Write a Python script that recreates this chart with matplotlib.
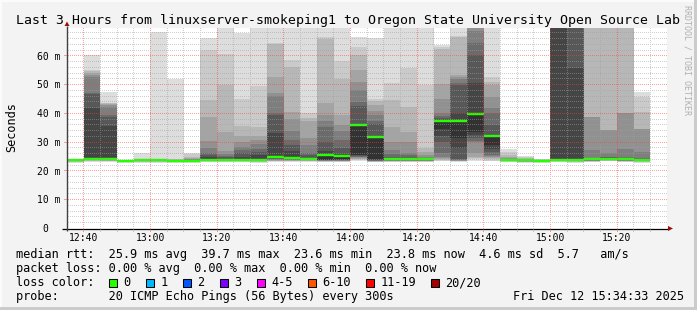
import numpy as np
import matplotlib
matplotlib.use("Agg")
import matplotlib.pyplot as plt
from matplotlib.colors import to_rgba
from matplotlib.patches import Polygon, Rectangle

W, H = 697, 310
MONO = "DejaVu Sans Mono"

TITLE = "Last 3 Hours from linuxserver-smokeping1 to Oregon State University Open Source Lab"
X_TICK_POS = [5, 25, 45, 65, 85, 105, 125, 145, 165]          # minutes after 12:35
X_TICK_LABELS = ["12:40", "13:00", "13:20", "13:40", "14:00", "14:20", "14:40", "15:00", "15:20"]
Y_TICKS = [0, 10, 20, 30, 40, 50, 60]
Y_TICK_LABELS = ["0", "10 m", "20 m", "30 m", "40 m", "50 m", "60 m"]
Y_LABEL = "Seconds"
STEP = 5
SPAN = 180
Y_MAX = 69.7

# sorted ping RTTs (ms) per 5-minute step: lower half and upper half (upper[0] = median)
LOW = [
    [22.9, 23.1, 23.2, 23.3, 23.4, 23.5, 23.5, 23.6, 23.6, 23.7],
    [23.2, 23.4, 23.5, 23.7, 23.8, 23.9, 24.0, 24.1, 24.2, 24.3],
    [23.0, 23.3, 23.5, 23.6, 23.7, 23.8, 23.9, 24.0, 24.0, 24.1],
    [22.9, 23.0, 23.1, 23.2, 23.3, 23.4, 23.4, 23.5, 23.5, 23.6],
    [22.9, 23.1, 23.2, 23.3, 23.4, 23.5, 23.5, 23.6, 23.6, 23.7],
    [22.9, 23.1, 23.2, 23.3, 23.4, 23.5, 23.5, 23.6, 23.6, 23.7],
    [22.9, 23.0, 23.1, 23.2, 23.3, 23.4, 23.4, 23.5, 23.5, 23.6],
    [22.9, 23.0, 23.1, 23.2, 23.3, 23.4, 23.4, 23.5, 23.5, 23.6],
    [23.0, 23.2, 23.3, 23.4, 23.5, 23.6, 23.7, 23.8, 23.8, 23.9],
    [23.0, 23.2, 23.3, 23.4, 23.5, 23.6, 23.7, 23.8, 23.8, 23.9],
    [23.0, 23.2, 23.3, 23.4, 23.5, 23.6, 23.7, 23.8, 23.8, 23.9],
    [22.9, 23.1, 23.2, 23.3, 23.4, 23.5, 23.6, 23.7, 23.7, 23.8],
    [23.0, 23.3, 23.5, 23.6, 23.7, 23.8, 24.0, 24.2, 24.4, 24.7],
    [23.0, 23.3, 23.5, 23.6, 23.7, 23.8, 23.9, 24.0, 24.2, 24.4],
    [23.0, 23.3, 23.5, 23.6, 23.7, 23.8, 23.9, 24.0, 24.0, 24.1],
    [23.0, 23.2, 23.3, 23.4, 23.5, 23.6, 23.7, 23.7, 23.8, 23.9],
    [23.0, 23.2, 23.3, 23.4, 23.5, 23.6, 23.7, 23.8, 23.9, 24.0],
    [23.6, 23.8, 24.0, 24.2, 24.5, 24.8, 25.0, 25.2, 25.4, 25.6],
    [23.0, 23.1, 23.2, 23.3, 23.4, 23.5, 23.6, 23.7, 23.8, 24.0],
    [23.0, 23.2, 23.3, 23.4, 23.5, 23.6, 23.7, 23.8, 23.9, 24.0],
    [23.0, 23.2, 23.3, 23.4, 23.5, 23.6, 23.7, 23.8, 23.9, 24.0],
    [23.0, 23.2, 23.3, 23.4, 23.5, 23.6, 23.7, 23.8, 23.9, 24.0],
    [23.3, 23.5, 23.7, 24.0, 24.4, 25.0, 26.2, 30.0, 32.0, 34.6],
    [23.2, 23.3, 23.4, 23.5, 23.6, 23.7, 23.8, 24.0, 28.0, 31.4],
    [23.6, 24.0, 24.5, 25.0, 26.1, 30.0, 30.5, 31.4, 32.5, 33.7],
    [23.3, 23.6, 24.0, 24.5, 25.0, 25.3, 25.6, 26.5, 27.5, 29.0],
    [23.0, 23.2, 23.3, 23.4, 23.5, 23.6, 23.7, 23.8, 23.8, 23.9],
    [22.9, 23.0, 23.1, 23.2, 23.3, 23.4, 23.5, 23.6, 23.6, 23.7],
    [22.9, 23.0, 23.1, 23.2, 23.3, 23.4, 23.4, 23.5, 23.5, 23.6],
    [23.0, 23.2, 23.3, 23.4, 23.5, 23.6, 23.7, 23.8, 23.8, 23.9],
    [22.9, 23.1, 23.2, 23.3, 23.4, 23.5, 23.6, 23.7, 23.7, 23.8],
    [23.0, 23.2, 23.3, 23.4, 23.5, 23.6, 23.7, 23.8, 23.9, 24.0],
    [23.3, 23.5, 23.6, 23.7, 23.8, 23.9, 24.0, 24.1, 24.2, 24.3],
    [23.0, 23.2, 23.3, 23.4, 23.5, 23.6, 23.7, 23.8, 23.9, 24.0],
    [22.9, 23.1, 23.2, 23.3, 23.4, 23.5, 23.6, 23.7, 23.7, 23.8],
]
HIGH = [
    [23.7, 23.7, 23.8, 23.8, 23.8, 23.9, 23.9, 24.0, 24.0, 24.1],
    [24.3, 42.0, 46.8, 47.0, 52.8, 53.4, 54.0, 54.8, 55.0, 60.3],
    [24.1, 35.8, 38.9, 39.5, 42.4, 42.8, 43.2, 43.5, 43.8, 47.4],
    [23.6, 23.6, 23.7, 23.7, 23.7, 23.8, 23.8, 23.8, 23.9, 23.9],
    [23.7, 23.8, 23.8, 23.9, 23.9, 24.0, 24.0, 24.1, 24.2, 26.2],
    [23.7, 23.8, 23.8, 23.9, 23.9, 24.0, 24.0, 24.1, 24.2, 68.2],
    [23.6, 23.7, 23.7, 23.8, 23.8, 23.9, 23.9, 24.0, 24.2, 52.0],
    [23.6, 23.7, 23.8, 23.9, 24.0, 24.3, 24.5, 25.0, 25.8, 26.4],
    [23.9, 24.8, 25.5, 26.2, 27.9, 30.4, 38.9, 44.7, 61.9, 66.1],
    [23.9, 24.3, 24.7, 25.2, 25.8, 26.8, 33.5, 49.9, 60.6, 72.0],
    [23.9, 25.0, 26.2, 27.3, 28.5, 30.2, 32.2, 35.7, 44.9, 68.1],
    [23.8, 25.5, 26.5, 27.5, 29.5, 30.7, 32.2, 35.4, 49.6, 72.0],
    [25.0, 33.1, 39.5, 40.1, 45.9, 47.0, 52.5, 64.0, 64.6, 72.0],
    [24.6, 27.0, 29.0, 30.8, 34.0, 38.1, 40.4, 56.0, 58.6, 72.0],
    [24.1, 24.6, 25.5, 26.2, 29.0, 31.4, 37.2, 38.5, 40.1, 72.0],
    [25.6, 27.0, 30.2, 35.4, 37.2, 39.5, 43.5, 66.0, 66.7, 72.0],
    [25.2, 26.0, 27.9, 30.8, 33.9, 36.0, 39.3, 52.0, 58.3, 72.0],
    [36.0, 36.5, 42.6, 44.1, 48.1, 51.1, 55.0, 60.3, 63.0, 66.4],
    [31.7, 32.0, 36.4, 37.5, 39.5, 41.0, 43.0, 44.3, 45.0, 66.1],
    [24.0, 24.5, 25.0, 26.0, 27.3, 30.0, 35.4, 44.5, 50.5, 72.0],
    [24.0, 24.4, 25.0, 25.5, 26.2, 30.0, 33.7, 42.4, 55.7, 72.0],
    [24.0, 24.2, 24.4, 24.6, 25.0, 25.5, 26.5, 28.0, 50.0, 72.0],
    [37.5, 38.0, 38.5, 39.0, 40.3, 45.0, 50.2, 62.5, 63.2, 63.8],
    [37.3, 40.1, 50.0, 50.5, 51.8, 52.5, 53.4, 66.4, 67.0, 72.0],
    [39.7, 50.5, 60.4, 64.4, 68.5, 80.0, 80.0, 80.0, 80.0, 80.0],
    [32.3, 32.5, 36.0, 40.1, 42.0, 45.8, 50.0, 51.0, 52.8, 72.0],
    [23.9, 24.0, 24.1, 24.2, 24.3, 24.5, 25.0, 25.5, 26.5, 27.7],
    [23.7, 23.8, 23.9, 24.0, 24.1, 24.2, 24.3, 24.5, 24.8, 25.3],
    [23.6, 23.6, 23.7, 23.7, 23.8, 23.8, 23.9, 23.9, 24.0, 24.0],
    [23.9, 80.0, 80.0, 80.0, 80.0, 80.0, 80.0, 80.0, 80.0, 80.0],
    [23.8, 55.7, 80.0, 80.0, 80.0, 80.0, 80.0, 80.0, 80.0, 80.0],
    [24.0, 24.1, 24.3, 24.4, 27.3, 38.9, 38.9, 80.0, 80.0, 80.0],
    [24.3, 24.5, 24.7, 25.0, 26.2, 34.3, 34.3, 80.0, 80.0, 80.0],
    [24.0, 24.2, 24.4, 25.0, 27.7, 40.1, 40.1, 80.0, 80.0, 80.0],
    [23.8, 24.1, 24.3, 24.5, 26.7, 34.6, 34.6, 40.4, 45.8, 47.6],
]

RTT_STATS = [25.9, 39.7, 23.6, 23.8]      # avg, max, min, now (ms)
RTT_SD = 4.6
RTT_AMS = 5.7
LOSS_STATS = [0.00, 0.00, 0.00, 0.00]     # avg, max, min, now (%)
LOSS_LABELS = ["0", "1", "2", "3", "4-5", "6-10", "11-19", "20/20"]
LOSS_COLORS = ["#26ff00", "#00b8ff", "#0059ff", "#7e00ff", "#ff00ff", "#ff5500", "#ff0000", "#a10000"]
PROBE = "20 ICMP Echo Pings (56 Bytes) every 300s"
DATE = "Fri Dec 12 15:34:33 2025"
WATERMARK = "RRDTOOL / TOBI OETIKER"


def fx(px):
    return px / W


def fy(py):
    return 1 - py / H


fig = plt.figure(figsize=(W / 100, H / 100), dpi=100, facecolor="#f3f3f3")

# frame of the canvas
fig.patches.append(Rectangle((fx(694), 0), fx(3), 1, transform=fig.transFigure,
                             facecolor="#cbcbcb", edgecolor="none"))
fig.patches.append(Rectangle((0, 0), 1, 1 - fy(3), transform=fig.transFigure,
                             facecolor="#cbcbcb", edgecolor="none"))
fig.patches.append(Rectangle((0, fy(2)), fx(694), 1 - fy(2), transform=fig.transFigure,
                             facecolor="#fbfbfb", edgecolor="none"))
fig.patches.append(Rectangle((0, fy(307)), fx(2), fy(2) - fy(307), transform=fig.transFigure,
                             facecolor="#fbfbfb", edgecolor="none"))

ax = fig.add_axes([fx(67), fy(228.5), 600 / W, 200.5 / H])
ax.set_facecolor("white")
ax.set_xlim(0, SPAN)
ax.set_ylim(0, Y_MAX)
for s in ax.spines.values():
    s.set_visible(False)
ax.set_xticks([])
ax.set_yticks([])

# smoke
pings = np.hstack([np.array(LOW), np.array(HIGH)])
n = pings.shape[1]
half = n // 2
starts = np.arange(len(pings)) * STEP
for j in range(half):
    g = int(190 / half * (half - (j + 1))) + 50
    ax.bar(starts, pings[:, n - 1 - j] - pings[:, j], bottom=pings[:, j], width=STEP,
           align="edge", color="#%02x%02x%02x" % (g, g, g), linewidth=0,
           antialiased=False, zorder=1)

# median line (0 loss -> green)
median = pings[:, half]
ax.hlines(median, starts, starts + STEP, colors=LOSS_COLORS[0], linewidth=1.75, zorder=3)

# axes lines + arrows
ax.hlines(0, -1.6, SPAN + 0.5, colors="black", linewidth=0.9, clip_on=False, zorder=7)
ax.vlines(0, -0.8, Y_MAX + 0.6, colors="#404040", linewidth=1.0, clip_on=False, zorder=7)
fig.patches.append(Polygon([(fx(64.5), fy(26)), (fx(69.5), fy(26)), (fx(67), fy(21.5))],
                           closed=True, transform=fig.transFigure, facecolor="#9a1010",
                           edgecolor="none"))
fig.patches.append(Polygon([(fx(668), fy(226)), (fx(668), fy(231)), (fx(673), fy(228.5))],
                           closed=True, transform=fig.transFigure, facecolor="#9a1010",
                           edgecolor="none"))

# dotted grid, rendered pixel-exact as an overlay (positions from the data transform)
major_x = X_TICK_POS
minor_x = [m for m in range(STEP, SPAN, STEP) if m not in major_x]
minor_y = [v for v in range(2, int(Y_MAX) + 1, 2) if v % 10 != 0]
major_y = [v for v in Y_TICKS if v > 0]
overlay = np.zeros((H, W, 4))
minor_rgba = np.array(to_rgba("#a0a0a0", 0.5))
major_rgba = np.array(to_rgba("#ff4040", 0.5))


def row_of(v):
    return H - 1 - int(np.floor(ax.transData.transform((0, v))[1]))


def col_of(x):
    return int(np.floor(ax.transData.transform((x, 0))[0]))


r_top, r_bot = row_of(Y_MAX), row_of(0)
c_left, c_right = col_of(0), col_of(SPAN)
for xs, rgba in ((minor_x, minor_rgba), (major_x, major_rgba)):
    for xv in xs:
        c = col_of(xv)
        for r in range(r_top, r_bot + 4):
            if r % 2 == 0 or r > r_bot:
                overlay[r, c] = rgba
for ys, rgba, ext in ((minor_y, minor_rgba, 0), (major_y, major_rgba, 3)):
    for yv in ys:
        r = row_of(yv)
        for c in range(c_left - ext, c_right):
            if c % 2 == 0 or c < c_left:
                overlay[r, c] = rgba
fig.figimage(overlay, 0, 0, origin="upper", zorder=5)

# tick labels
for pos, lab in zip(X_TICK_POS, X_TICK_LABELS):
    ax.text(pos, -12.5 / 200.5, lab, transform=ax.get_xaxis_transform(), family=MONO,
            fontsize=7, ha="center", va="baseline", color="#000000")
for val, lab in zip(Y_TICKS, Y_TICK_LABELS):
    xr = 60.2 if lab != "0" else 48.4
    ypx = 228.5 - val * 200.5 / Y_MAX + 3.6
    fig.text(fx(xr), fy(ypx), lab, family=MONO, fontsize=7, ha="right", va="baseline")

fig.text(fx(11.5), fy(127), Y_LABEL, family=MONO, fontsize=8.53, rotation=90,
         ha="center", va="center")

# title
fig.text(fx(16), fy(24), TITLE, family=MONO, fontsize=9.55, ha="left", va="baseline")

# watermark
fig.text(fx(687), fy(60), WATERMARK, family=MONO, fontsize=6, rotation=270,
         ha="center", va="center", color="#b0b0b0")

# legend / statistics
line1 = ("median rtt:  %.1f ms avg  %.1f ms max  %.1f ms min  %.1f ms now  %.1f ms sd  %.1f   am/s"
         % (RTT_STATS[0], RTT_STATS[1], RTT_STATS[2], RTT_STATS[3], RTT_SD, RTT_AMS))
line2 = ("packet loss: %.2f %% avg  %.2f %% max  %.2f %% min  %.2f %% now"
         % tuple(LOSS_STATS))
fig.text(fx(16), fy(258.3), line1, family=MONO, fontsize=8.53, va="baseline")
fig.text(fx(16), fy(272.2), line2, family=MONO, fontsize=8.53, va="baseline")
fig.text(fx(16), fy(286.0), "loss color:", family=MONO, fontsize=8.53, va="baseline")
x = 108.3
for lab, col in zip(LOSS_LABELS, LOSS_COLORS):
    fig.patches.append(Rectangle((fx(x + 0.5), fy(286.5)), 8 / W, 8 / H,
                                 transform=fig.transFigure, facecolor=col,
                                 edgecolor="black", linewidth=0.75))
    fig.text(fx(x + 15), fy(286.0), lab, family=MONO, fontsize=8.53, va="baseline")
    x += 29.9 + 7.03 * len(lab)
fig.text(fx(16), fy(299.8), "probe:       " + PROBE, family=MONO, fontsize=8.53, va="baseline")
fig.text(fx(513.3), fy(299.8), DATE, family=MONO, fontsize=8.53, va="baseline")

fig.savefig("out.png", dpi=100, facecolor=fig.get_facecolor())
